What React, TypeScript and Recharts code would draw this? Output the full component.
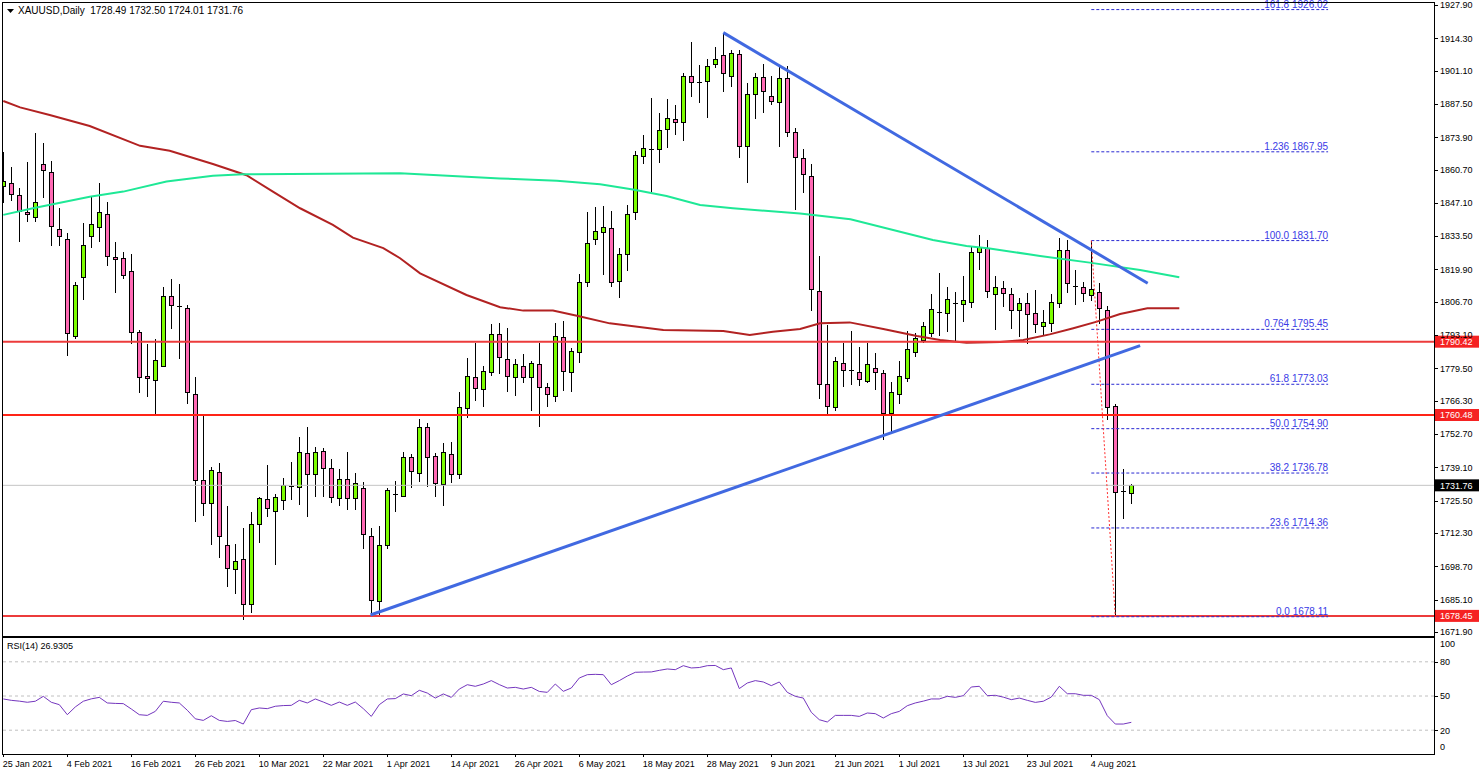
import React from "react";
import { ComposedChart, LineChart, Bar, Line, XAxis, YAxis, ReferenceLine } from "recharts";

const FONT = "'Liberation Sans', Arial, sans-serif";

// daily candles, 25 Jan 2021 (index 0) .. 11 Aug 2021 (index 141)
const opens = [
  1854.0, 1855.2, 1850.2, 1843.4, 1841.3, 1863.0, 1859.8, 1836.6, 1832.4, 1792.9,
  1816.7, 1833.7, 1837.2, 1842.4, 1824.9, 1824.5, 1819.4, 1794.2, 1776.4, 1774.7,
  1780.6, 1809.2, 1804.8, 1804.1, 1768.9, 1733.9, 1724.4, 1737.1, 1707.3, 1697.5,
  1701.6, 1683.2, 1715.8, 1726.0, 1721.4, 1725.7, 1731.5, 1731.2, 1744.8, 1736.3,
  1745.6, 1738.7, 1726.5, 1734.2, 1726.5, 1730.6, 1711.1, 1684.5, 1707.3, 1728.2,
  1727.5, 1743.2, 1736.7, 1755.5, 1743.8, 1732.2, 1744.4, 1736.4, 1763.2, 1776.1,
  1771.1, 1778.2, 1793.4, 1783.4, 1775.9, 1780.6, 1776.1, 1781.2, 1772.0, 1768.4,
  1792.5, 1778.2, 1786.1, 1814.7, 1832.2, 1835.4, 1836.7, 1815.3, 1826.2, 1843.3,
  1866.4, 1869.0, 1869.0, 1877.2, 1881.4, 1880.3, 1898.9, 1896.6, 1896.7, 1903.7,
  1907.5, 1898.9, 1907.8, 1870.3, 1891.7, 1898.6, 1890.9, 1888.4, 1898.0, 1876.2,
  1865.3, 1857.9, 1811.2, 1773.0, 1763.6, 1781.6, 1778.7, 1778.2, 1774.5, 1779.8,
  1777.5, 1761.4, 1769.1, 1775.5, 1786.3, 1791.1, 1793.8, 1802.6, 1802.0, 1806.4,
  1805.7, 1806.8, 1826.9, 1828.5, 1809.8, 1812.3, 1809.8, 1803.2, 1806.3, 1802.0,
  1796.7, 1797.9, 1806.1, 1827.9, 1813.3, 1812.6, 1809.5, 1810.8, 1803.4, 1764.2,
  1729.3, 1728.49,
];
const highs = [
  1867.9, 1861.9, 1853.3, 1863.7, 1875.5, 1871.4, 1864.2, 1844.9, 1834.7, 1814.9,
  1838.8, 1849.6, 1855.4, 1847.6, 1831.0, 1827.2, 1826.2, 1795.2, 1789.4, 1791.4,
  1812.9, 1815.9, 1814.0, 1805.4, 1776.0, 1760.2, 1739.1, 1740.8, 1723.3, 1707.8,
  1714.2, 1720.7, 1727.1, 1740.1, 1728.1, 1734.6, 1741.3, 1751.4, 1755.5, 1747.5,
  1746.9, 1742.4, 1738.3, 1745.5, 1737.0, 1733.0, 1714.2, 1715.1, 1730.6, 1733.6,
  1745.2, 1744.6, 1758.7, 1757.1, 1744.8, 1749.2, 1749.3, 1769.8, 1783.6, 1790.0,
  1780.5, 1797.6, 1798.2, 1796.1, 1783.4, 1785.4, 1782.5, 1790.0, 1773.6, 1798.2,
  1798.8, 1787.7, 1818.1, 1843.3, 1845.3, 1845.8, 1843.8, 1828.5, 1846.1, 1868.4,
  1874.8, 1889.8, 1883.9, 1889.5, 1887.1, 1900.3, 1912.9, 1903.4, 1905.7, 1910.9,
  1916.6, 1909.5, 1909.5, 1896.2, 1900.3, 1903.8, 1898.9, 1903.0, 1903.0, 1877.6,
  1869.0, 1862.9, 1825.4, 1797.2, 1784.0, 1789.7, 1794.8, 1788.4, 1789.7, 1785.7,
  1778.9, 1774.1, 1782.5, 1794.8, 1793.8, 1798.6, 1809.8, 1818.6, 1812.6, 1810.8,
  1817.2, 1829.6, 1834.0, 1831.9, 1817.2, 1815.2, 1812.5, 1808.4, 1810.2, 1811.5,
  1803.4, 1809.8, 1832.6, 1831.9, 1819.7, 1814.9, 1831.7, 1814.5, 1804.9, 1764.8,
  1738.4, 1732.5,
];
const lows = [
  1847.1, 1847.9, 1831.2, 1839.4, 1839.4, 1849.0, 1829.3, 1829.3, 1784.6, 1791.4,
  1807.4, 1828.5, 1831.0, 1821.3, 1810.4, 1815.9, 1789.3, 1769.3, 1768.0, 1760.9,
  1780.2, 1795.5, 1783.5, 1765.0, 1716.9, 1719.4, 1707.3, 1702.0, 1690.4, 1687.3,
  1676.8, 1679.8, 1708.1, 1719.0, 1699.2, 1721.7, 1725.8, 1723.7, 1719.0, 1727.1,
  1727.1, 1724.4, 1723.3, 1721.7, 1721.7, 1705.6, 1678.8, 1678.1, 1705.6, 1721.0,
  1727.1, 1730.6, 1733.0, 1731.0, 1727.1, 1723.5, 1732.6, 1734.2, 1759.4, 1766.3,
  1763.6, 1776.5, 1777.2, 1769.8, 1768.4, 1773.4, 1762.2, 1755.7, 1763.9, 1765.9,
  1770.4, 1770.0, 1781.8, 1812.6, 1830.0, 1817.5, 1812.9, 1808.4, 1819.4, 1840.1,
  1863.0, 1851.4, 1863.5, 1869.6, 1874.8, 1872.5, 1890.5, 1888.0, 1881.9, 1902.0,
  1892.3, 1894.3, 1865.3, 1855.4, 1881.2, 1883.7, 1887.1, 1869.8, 1874.1, 1844.2,
  1851.2, 1803.1, 1766.9, 1760.9, 1762.0, 1772.1, 1772.7, 1772.3, 1773.4, 1770.7,
  1750.3, 1753.7, 1765.0, 1774.1, 1784.3, 1790.0, 1792.2, 1792.7, 1794.5, 1790.8,
  1798.6, 1804.3, 1819.6, 1808.1, 1795.2, 1804.7, 1795.5, 1792.5, 1789.5, 1793.8,
  1792.9, 1794.5, 1804.0, 1810.2, 1805.4, 1806.8, 1807.0, 1797.8, 1758.5, 1678.1,
  1717.9, 1724.01,
];
const closes = [
  1856.0, 1850.6, 1843.9, 1842.4, 1847.3, 1860.4, 1837.8, 1833.7, 1793.8, 1813.6,
  1830.0, 1838.5, 1843.4, 1825.4, 1824.1, 1817.7, 1794.2, 1775.9, 1775.5, 1782.8,
  1809.2, 1805.4, 1804.5, 1769.8, 1733.9, 1724.4, 1738.0, 1711.1, 1697.9, 1700.9,
  1683.2, 1715.8, 1726.4, 1722.4, 1726.9, 1731.8, 1731.3, 1745.2, 1736.3, 1745.2,
  1738.7, 1726.9, 1734.2, 1726.5, 1732.6, 1711.8, 1684.9, 1707.3, 1729.8, 1728.0,
  1743.2, 1737.6, 1755.5, 1743.2, 1732.6, 1745.2, 1736.4, 1763.6, 1776.5, 1771.4,
  1778.6, 1793.4, 1784.0, 1776.4, 1781.2, 1776.1, 1781.6, 1771.8, 1768.9, 1792.9,
  1778.6, 1786.7, 1814.7, 1830.6, 1835.6, 1837.1, 1814.9, 1826.2, 1842.4, 1866.7,
  1869.5, 1868.8, 1876.9, 1881.8, 1880.3, 1898.9, 1896.3, 1896.4, 1902.9, 1905.7,
  1900.0, 1908.2, 1870.3, 1891.4, 1898.6, 1892.8, 1888.7, 1898.2, 1876.0, 1865.8,
  1858.8, 1811.8, 1773.0, 1764.3, 1782.6, 1778.9, 1778.5, 1775.2, 1781.2, 1778.0,
  1761.2, 1770.0, 1776.5, 1787.3, 1791.8, 1796.8, 1803.6, 1802.4, 1807.7, 1806.2,
  1807.5, 1827.0, 1829.2, 1811.2, 1812.6, 1810.2, 1803.2, 1806.3, 1801.9, 1797.5,
  1798.6, 1806.7, 1827.9, 1814.3, 1813.1, 1810.2, 1811.8, 1804.0, 1763.6, 1729.2,
  1729.1, 1731.76,
];

// RSI(14), one value per candle
const rsi14 = [
  47.4, 46.2, 45.5, 44.5, 45.4, 49.7, 44.5, 42.4, 33.6, 40.4,
  45.4, 47.5, 48.8, 43.9, 43.5, 43.3, 38.6, 33.6, 33.0, 36.5,
  45.4, 44.5, 43.9, 37.5, 30.0, 28.6, 32.7, 28.6, 27.7, 28.5,
  25.4, 38.0, 39.5, 38.9, 41.0, 41.6, 41.8, 46.2, 43.9, 47.4,
  44.7, 41.8, 44.7, 41.8, 44.7, 38.9, 32.1, 42.4, 47.4, 47.7,
  51.8, 50.3, 55.0, 52.6, 48.2, 51.8, 48.8, 56.1, 59.9, 58.5,
  60.5, 63.5, 60.0, 57.0, 57.6, 56.1, 57.6, 54.0, 53.2, 60.5,
  54.1, 57.0, 65.8, 68.7, 69.0, 68.7, 59.9, 63.5, 67.5, 70.8,
  71.0, 71.1, 72.5, 73.7, 73.1, 76.6, 74.6, 75.0, 76.6, 76.8,
  73.1, 74.6, 56.5, 61.4, 63.5, 62.3, 59.1, 62.3, 53.2, 49.7,
  48.2, 35.7, 29.2, 27.2, 33.0, 33.0, 33.0, 32.1, 35.1, 34.5,
  30.7, 34.5, 36.5, 41.5, 43.9, 45.5, 47.4, 47.4, 49.7, 48.8,
  50.3, 57.9, 58.5, 50.3, 50.6, 49.0, 46.8, 48.2, 46.2, 44.4,
  45.4, 49.1, 58.5, 52.0, 52.0, 50.6, 50.6, 46.8, 32.7, 25.4,
  25.4, 26.9,
];

// moving averages (shifted forward, so they run past the last candle)
const maRedX = [0, 2.1, 5.8, 10.8, 17.1, 20.8, 26.2, 30.4, 33.7, 37.1, 41.2, 43.7, 47.5, 49.6, 52.1, 57.9, 62.1, 65, 68.7, 71.7, 75.8, 82.5, 90, 93.3, 96.2, 99.6, 102.1, 105.8, 110, 114.2, 117.1, 120.4, 124.6, 127.5, 130.8, 133.75, 136.7, 139.6, 143, 147];
const maRedY = [1888.7, 1886.1, 1883.0, 1878.5, 1870.4, 1868.4, 1863.0, 1858.4, 1851.7, 1844.9, 1838.1, 1832.9, 1828.6, 1824.5, 1818.3, 1809.5, 1804.5, 1803.1, 1803.1, 1801.0, 1797.9, 1795.2, 1794.8, 1793.2, 1794.5, 1795.6, 1797.9, 1798.3, 1795.6, 1792.7, 1791.1, 1790.0, 1790.3, 1791.1, 1793.4, 1795.9, 1798.6, 1801.7, 1804.1, 1804.1];
const maGreenX = [0, 3.7, 10.8, 15, 20.4, 26.2, 30, 49.6, 62.1, 69.2, 74.6, 78.7, 82.9, 87.1, 91.2, 99.6, 105.9, 112.1, 116.2, 120.4, 123.3, 129.6, 135.8, 142.1, 147];
const maGreenY = [1842.2, 1844.9, 1849.6, 1851.7, 1855.8, 1858.2, 1858.8, 1859.2, 1857.1, 1856.1, 1854.7, 1852.6, 1849.9, 1846.2, 1844.9, 1842.8, 1840.4, 1835.3, 1831.9, 1829.5, 1828.5, 1825.4, 1822.7, 1819.7, 1816.7];

const priceTicks = [1927.9, 1914.3, 1901.1, 1887.5, 1873.9, 1860.7, 1847.1, 1833.5, 1819.9, 1806.7, 1793.1, 1779.5, 1766.3, 1752.7, 1739.1, 1725.5, 1712.3, 1698.7, 1685.1, 1671.9];
const rsiTicks = [0, 20, 50, 80, 100];
const rsiLevels = [20, 50, 80];
const dateTickIdx = [0, 8, 16, 24, 32, 40, 48, 56, 64, 72, 80, 88, 96, 104, 112, 120, 128, 136];
const dateLabels = ["25 Jan 2021", "4 Feb 2021", "16 Feb 2021", "26 Feb 2021", "10 Mar 2021", "22 Mar 2021", "1 Apr 2021", "14 Apr 2021", "26 Apr 2021", "6 May 2021", "18 May 2021", "28 May 2021", "9 Jun 2021", "21 Jun 2021", "1 Jul 2021", "13 Jul 2021", "23 Jul 2021", "4 Aug 2021"];

const fibLevels = [1926.02, 1867.95, 1831.7, 1795.45, 1773.03, 1754.9, 1736.78, 1714.36, 1678.11];
const fibNames = ["161.8", "1.236", "100.0", "0.764", "61.8", "50.0", "38.2", "23.6", "0.0"];
const fibFrom = 136;
const fibTo = 165.6;

const redLevels = [1790.42, 1760.48, 1678.45];
const redColors = ["#ec3b3b", "#ff2416", "#ec3b3b"];
const lastPrice = 1731.76;

const trendDown = [{ x: 90, y: 1916.6 }, { x: 143.05, y: 1814.3 }];
const trendUp = [{ x: 45.9, y: 1678.8 }, { x: 142.1, y: 1788.8 }];
const fibSwing = [{ x: 136, y: 1831.7 }, { x: 139, y: 1678.11 }];

const X_DOMAIN = [-0.0375, 178.8375];
const Y_DOMAIN = [1670.24, 1929.12];

const candles = opens.map((o, i) => ({ i, o, h: highs[i], l: lows[i], c: closes[i] }));
const maRed = maRedX.map((x, k) => ({ i: x, v: maRedY[k] }));
const maGreen = maGreenX.map((x, k) => ({ i: x, v: maGreenY[k] }));
const rsiData = rsi14.map((v, i) => ({ i, v }));

const Candle = (props: any) => {
  const { x, y, width, height, payload } = props;
  if (x == null || !payload) return null;
  const { o, h, l, c } = payload;
  const cx = Math.round(x + width / 2) + 0.5;
  const top = Math.min(y, y + height);
  const k = h > l ? Math.abs(height) / (h - l) : 0;
  const py = (v: number) => top + (h - v) * k;
  const bTop = Math.round(py(Math.max(o, c)));
  const bBot = Math.round(py(Math.min(o, c)));
  const flat = Math.abs(o - c) < 0.35;
  return (
    <g>
      <line x1={cx} x2={cx} y1={Math.round(py(h))} y2={Math.round(py(l))} stroke="#000" strokeWidth={1} />
      {flat ? (
        <line x1={cx - 2.5} x2={cx + 2.5} y1={bTop + 0.5} y2={bTop + 0.5} stroke="#000" strokeWidth={1} />
      ) : (
        <rect x={cx - 2} y={bTop + 0.5} width={4} height={Math.max(1, bBot - bTop)} fill={c > o ? "#7cfc00" : "#ff69b4"} stroke="#000" strokeWidth={1} />
      )}
    </g>
  );
};

const PriceTick = (props: any) => {
  const { x, y, payload } = props;
  const yy = Math.round(y) + 0.5;
  return (
    <g>
      <line x1={x + 1} x2={x + 4} y1={yy} y2={yy} stroke="#000" />
      <text x={x + 6} y={y + 3.3} fontSize={9} fontFamily={FONT} fill="#000">{payload.value.toFixed(2)}</text>
    </g>
  );
};

const PriceTag = (props: any) => {
  const { viewBox, fill, text } = props;
  if (!viewBox) return null;
  const x = viewBox.x + viewBox.width + 1;
  const y = viewBox.y;
  return (
    <g>
      <rect x={x} y={y - 6} width={44} height={12} fill={fill} />
      <text x={x + 5} y={y + 3.3} fontSize={9} fontFamily={FONT} fill="#fff">{text}</text>
    </g>
  );
};

const FibLabel = (props: any) => {
  const { viewBox, text } = props;
  if (!viewBox) return null;
  return (
    <text x={viewBox.x + viewBox.width} y={viewBox.y - 2} textAnchor="end" fontSize={10} fontFamily={FONT} fill="#3a3ae6" style={{ whiteSpace: "pre" }}>{text}</text>
  );
};

const RsiTick = (props: any) => {
  const { x, y, payload } = props;
  const v = payload.value;
  const dy = v === 100 ? 5 : v === 0 ? -6 : 0;
  const yy = Math.round(y) + 0.5;
  return (
    <g>
      {v !== 0 && v !== 100 && <line x1={x + 1} x2={x + 4} y1={yy} y2={yy} stroke="#000" />}
      <text x={x + 6} y={y + dy + 3.3} fontSize={9} fontFamily={FONT} fill="#000">{v}</text>
    </g>
  );
};

const DateTick = (props: any) => {
  const { x, y, payload } = props;
  const k = dateTickIdx.indexOf(payload.value);
  const xx = Math.round(x) + 0.5;
  return (
    <g>
      <line x1={xx} x2={xx} y1={y + 1} y2={y + 4} stroke="#000" />
      <text x={x - 0.5} y={y + 13.5} fontSize={9} fontFamily={FONT} fill="#000">{dateLabels[k]}</text>
    </g>
  );
};

export default function App() {
  return (
    <div style={{ position: "absolute", left: 0, top: 0, width: 1480, height: 775, background: "#fff", overflow: "hidden" }}>
      <div style={{ position: "absolute", left: 0, top: 0 }}>
        <ComposedChart width={1480} height={636} data={candles} margin={{ top: 2, right: 0, bottom: 0, left: 3 }}>
          <XAxis xAxisId="candle" type="number" dataKey="i" domain={X_DOMAIN} allowDataOverflow hide />
          <XAxis type="number" dataKey="i" domain={X_DOMAIN} allowDataOverflow hide />
          <YAxis
            orientation="right"
            domain={Y_DOMAIN}
            allowDataOverflow
            ticks={priceTicks}
            interval={0}
            width={46}
            axisLine={false}
            tickLine={false}
            tickSize={0}
            tickMargin={0}
            tick={(p: any) => <PriceTick {...p} />}
          />

          <ReferenceLine y={lastPrice} stroke="#c4c4c4" strokeWidth={1} label={<PriceTag fill="#000" text={lastPrice.toFixed(2)} />} />

          <Bar xAxisId="candle" dataKey={(d: any) => [d.l, d.h]} barSize={5} shape={<Candle />} isAnimationActive={false} />

          <Line data={maRed} dataKey="v" stroke="#b22222" strokeWidth={2} dot={false} activeDot={false} isAnimationActive={false} />
          <Line data={maGreen} dataKey="v" stroke="#1ee896" strokeWidth={2} dot={false} activeDot={false} isAnimationActive={false} />

          {redLevels.map((v, k) => (
            <ReferenceLine key={`r${k}`} y={v} stroke={redColors[k]} strokeWidth={2} label={<PriceTag fill="#f52222" text={v.toFixed(2)} />} />
          ))}

          {fibLevels.map((v, k) => (
            <ReferenceLine
              key={`f${k}`}
              segment={[{ x: fibFrom, y: v }, { x: fibTo, y: v }]}
              stroke="#2a2ad2"
              strokeWidth={1}
              strokeDasharray="3 2"
              label={<FibLabel text={`${fibNames[k]} ${v.toFixed(2)}`} />}
            />
          ))}
          <ReferenceLine segment={fibSwing} stroke="#ff3030" strokeWidth={1} strokeDasharray="2 2" />

          <ReferenceLine segment={trendDown} stroke="#4169e1" strokeWidth={3} />
          <ReferenceLine segment={trendUp} stroke="#4169e1" strokeWidth={3} />
        </ComposedChart>
      </div>

      <div style={{ position: "absolute", left: 0, top: 637 }}>
        <LineChart width={1480} height={138} data={rsiData} margin={{ top: 2, right: 0, bottom: 0, left: 3 }}>
          <XAxis
            type="number"
            dataKey="i"
            domain={X_DOMAIN}
            allowDataOverflow
            ticks={dateTickIdx}
            interval={0}
            height={22}
            axisLine={false}
            tickLine={false}
            tickSize={0}
            tickMargin={0}
            tick={(p: any) => <DateTick {...p} />}
          />
          <YAxis
            orientation="right"
            domain={[0, 100]}
            ticks={rsiTicks}
            interval={0}
            width={46}
            axisLine={false}
            tickLine={false}
            tickSize={0}
            tickMargin={0}
            tick={(p: any) => <RsiTick {...p} />}
          />
          {rsiLevels.map((v) => (
            <ReferenceLine key={v} y={v} stroke="#c0c0c0" strokeDasharray="3 3" />
          ))}
          <Line dataKey="v" stroke="#7436be" strokeWidth={1} dot={false} activeDot={false} isAnimationActive={false} />
        </LineChart>
      </div>

      {/* panel frames */}
      <div style={{ position: "absolute", left: 2, top: 2, width: 1433, height: 635, border: "1px solid #000", boxSizing: "border-box", pointerEvents: "none" }} />
      <div style={{ position: "absolute", left: 2, top: 637, width: 1433, height: 118, border: "1px solid #000", boxSizing: "border-box", pointerEvents: "none" }} />

      {/* header texts */}
      <svg style={{ position: "absolute", left: 7, top: 9 }} width={7} height={5}>
        <polygon points="0,0 7,0 3.5,4" fill="#000" />
      </svg>
      <div style={{ position: "absolute", left: 18, top: 6, fontFamily: FONT, fontSize: 10, lineHeight: "10px", whiteSpace: "pre", color: "#000" }}>
        {"XAUUSD,Daily  1728.49 1732.50 1724.01 1731.76"}
      </div>
      <div style={{ position: "absolute", left: 7, top: 642, fontFamily: FONT, fontSize: 9, lineHeight: "9px", whiteSpace: "pre", color: "#000" }}>
        {"RSI(14) 26.9305"}
      </div>
    </div>
  );
}
